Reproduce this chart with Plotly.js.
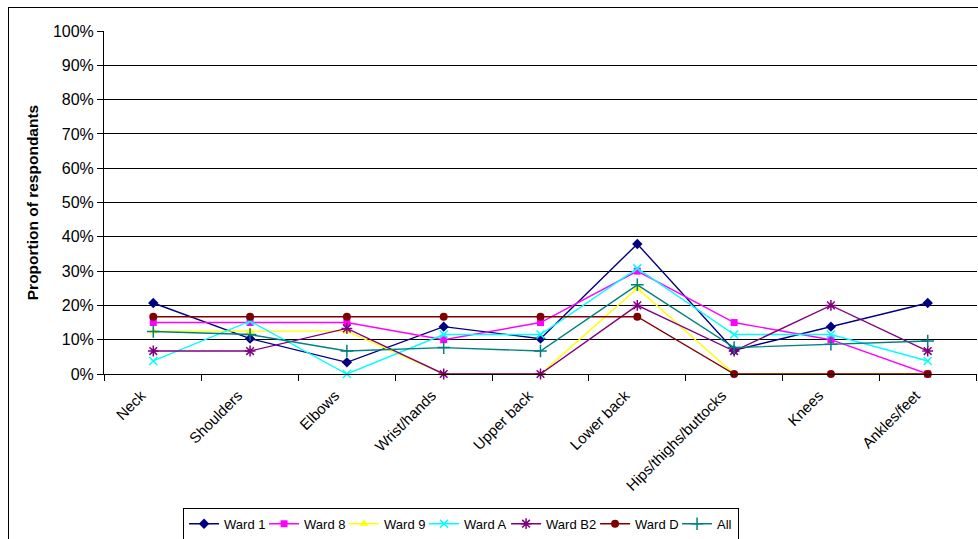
<!DOCTYPE html>
<html>
<head>
<meta charset="utf-8">
<script src="https://cdn.plot.ly/plotly-3.0.1.min.js"></script>
<style>
  html, body { margin: 0; padding: 0; background: #fff; overflow: hidden; height: 539px; }
  #chart { width: 978px; height: 546px; }
  #frame { position: absolute; left: 8px; top: 7px; width: 1000px; height: 600px;
           border: 1px solid #000; pointer-events: none; box-sizing: border-box; }
</style>
</head>
<body>
<div id="chart"></div>
<div id="frame"></div>
<script>
// Body regions reported
const regions = ['Neck', 'Shoulders', 'Elbows', 'Wrist/hands', 'Upper back',
                 'Lower back', 'Hips/thighs/buttocks', 'Knees', 'Ankles/feet'];

// Proportion of respondents per ward (fractions)
const ward1  = [0.207, 0.103, 0.034, 0.138, 0.103, 0.379, 0.069, 0.138, 0.207];
const ward8  = [0.150, 0.150, 0.150, 0.100, 0.150, 0.300, 0.150, 0.100, 0.000];
const ward9  = [0.125, 0.125, 0.125, 0.000, 0.000, 0.250, 0.000, 0.000, 0.000];
const wardA  = [0.038, 0.154, 0.000, 0.115, 0.115, 0.308, 0.115, 0.115, 0.038];
const wardB2 = [0.067, 0.067, 0.133, 0.000, 0.000, 0.200, 0.067, 0.200, 0.067];
const wardD  = [0.167, 0.167, 0.167, 0.167, 0.167, 0.167, 0.000, 0.000, 0.000];
const allWards = [0.124, 0.115, 0.067, 0.077, 0.067, 0.260, 0.077, 0.087, 0.096];

const yTicks = [0, 0.1, 0.2, 0.3, 0.4, 0.5, 0.6, 0.7, 0.8, 0.9, 1.0];

function series(name, y, color, symbol, size, open, entryWidth) {
  return {
    type: 'scatter', mode: 'lines+markers', name: name,
    x: regions, y: y,
    line: { color: color, width: 1.4 },
    marker: { color: color, symbol: symbol, size: size,
              line: { color: color, width: open ? 1.5 : 0 } },
    legendwidth: entryWidth,
    cliponaxis: false
  };
}

const traces = [
  series('Ward 1', ward1, '#000080', 'diamond', 8, false, 35),
  series('Ward 8', ward8, '#FF00FF', 'square', 7, false, 35),
  series('Ward 9', ward9, '#FFFF00', 'triangle-up', 8, false, 35),
  series('Ward A', wardA, '#00FFFF', 'x-thin-open', 8, true, 37),
  series('Ward B2', wardB2, '#800080', 'asterisk-open', 9, true, 44),
  series('Ward D', wardD, '#800000', 'circle', 8, false, 37),
  series('All', allWards, '#008080', 'cross-thin-open', 9, true, 16)
];

const layout = {
  width: 978, height: 546,
  margin: { l: 104, r: 1, t: 31, b: 172 },
  paper_bgcolor: '#fff', plot_bgcolor: '#fff',
  font: { family: 'Liberation Sans, Arial, sans-serif', size: 15, color: '#000' },
  showlegend: true,
  hovermode: false,
  xaxis: {
    type: 'category',
    showgrid: false, zeroline: false,
    showline: true, linecolor: '#000', linewidth: 1,
    ticks: 'outside', tickson: 'boundaries', ticklen: 6, tickcolor: '#000',
    tickangle: -45, ticklabelshift: -12, ticklabelstandoff: 6,
    tickfont: { size: 15, color: '#000' }
  },
  yaxis: {
    range: [0, 1], tickvals: yTicks, tickformat: '.0%',
    showgrid: true, gridcolor: '#000', gridwidth: 1,
    zeroline: false, showline: true, linecolor: '#000', linewidth: 1,
    ticks: 'outside', ticklen: 6, tickcolor: '#000',
    tickfont: { size: 16, color: '#000' },
    title: { text: '<b>Proportion of respondants</b>', font: { size: 15.5, color: '#000' }, standoff: 10 }
  },
  legend: {
    orientation: 'h', x: 0.409, xanchor: 'center', y: -0.39, yanchor: 'top',
    bordercolor: '#000', borderwidth: 1, bgcolor: '#fff',
    font: { size: 13, color: '#000' },
    itemclick: false, itemdoubleclick: false
  }
};

Plotly.newPlot('chart', traces, layout, { staticPlot: true, displayModeBar: false });
</script>
</body>
</html>
